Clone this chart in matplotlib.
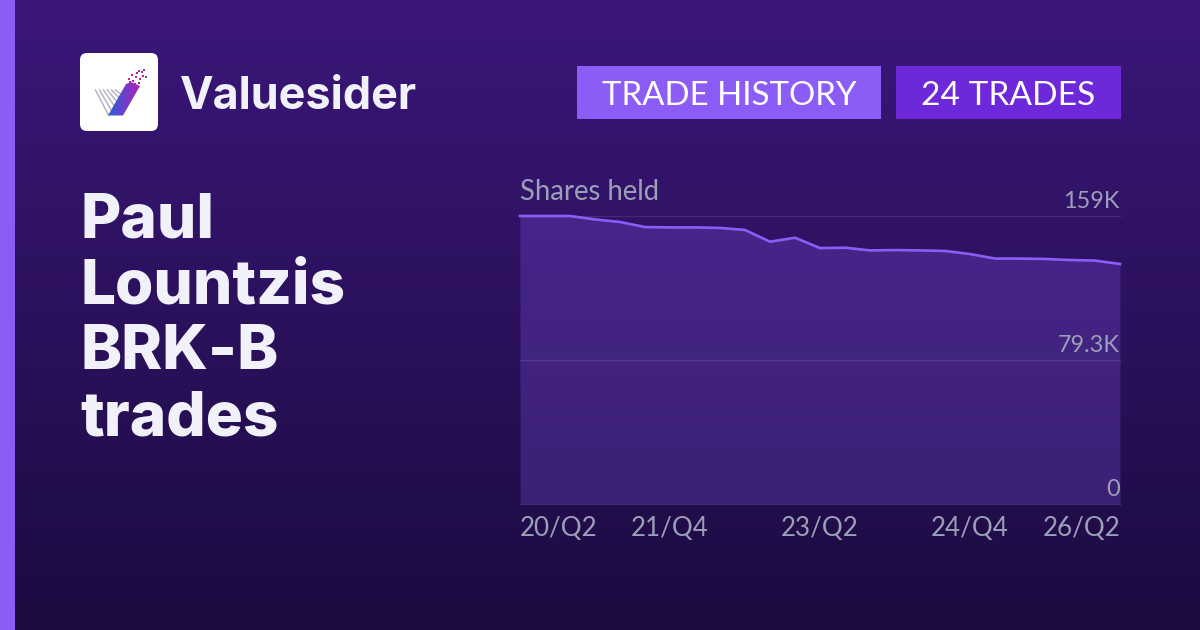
import numpy as np
import matplotlib
matplotlib.use("Agg")
import matplotlib.pyplot as plt
from matplotlib.patches import Rectangle, FancyBboxPatch, Polygon
from matplotlib.transforms import blended_transform_factory

# Data
quarters = ["20/Q2", "20/Q3", "20/Q4", "21/Q1", "21/Q2", "21/Q3", "21/Q4", "22/Q1", "22/Q2",
            "22/Q3", "22/Q4", "23/Q1", "23/Q2", "23/Q3", "23/Q4", "24/Q1", "24/Q2", "24/Q3",
            "24/Q4", "25/Q1", "25/Q2", "25/Q3", "25/Q4", "26/Q1", "26/Q2"]
shares_k = [159, 159, 159, 157.1, 155.7, 152.9, 152.7, 152.7, 152.4, 151.3, 144.8, 147.0, 141.3,
            141.5, 140.0, 140.2, 140.0, 139.7, 138.0, 135.5, 135.5, 135.3, 134.7, 134.4, 132.5]
shown_ticks = ["20/Q2", "21/Q4", "23/Q2", "24/Q4", "26/Q2"]
y_levels = [159, 79.3, 0]
y_labels = ["159K", "79.3K", "0"]
title_lines = ["Paul", "Lountzis", "BRK-B", "trades"]

W, H, DPI = 1200, 630, 100
fs = lambda px: px * 72 / DPI
fig = plt.figure(figsize=(W / DPI, H / DPI), dpi=DPI)

# Page layer in pixel coordinates
bg = fig.add_axes([0, 0, 1, 1], zorder=0)
bg.set_xlim(0, W); bg.set_ylim(H, 0); bg.axis("off")
top = np.array([0x3b, 0x17, 0x7a]) / 255
bot = np.array([0x1c, 0x0b, 0x40]) / 255
t = np.linspace(0, 1, 256)[:, None, None]
bg.imshow(top * (1 - t) + bot * t, extent=(0, W, H, 0), aspect="auto", zorder=0)
bg.add_patch(Rectangle((0, 0), 15, H, color="#8b5cf6", lw=0, zorder=1))

# Logo
bg.add_patch(FancyBboxPatch((80, 53), 78, 78, boxstyle="round,pad=0,rounding_size=7", lw=0, fc="white", zorder=1))
for i in range(6):
    x0 = 95.5 + i * 4
    bg.plot([x0, x0 + 13 - i * 0.3], [90, 115 - i * 3.3], color="#b4b6c2", lw=1.1, zorder=2)
grad = np.linspace(0, 1, 64)[None, :, None]
c1, c2 = np.array([0.16, 0.38, 0.85]), np.array([0.72, 0.12, 0.72])
im = bg.imshow(c1 * (1 - grad) + c2 * grad, extent=(108, 142, 116, 76), aspect="auto", zorder=2)
im.set_clip_path(Polygon([[108, 115.5], [123, 115.5], [140, 86], [131, 82], [126, 84]], transform=bg.transData))
for px_x, px_y in [(128, 78), (132, 80), (135, 76), (138, 82), (134, 83), (139, 78), (131, 74),
                   (136, 72), (141, 71), (143, 69), (142, 75), (138, 70), (145, 76), (129, 81)]:
    bg.add_patch(Rectangle((px_x, px_y), 2.2, 2.2, color="#b0259f", lw=0, zorder=3))
bg.set_xlim(0, W); bg.set_ylim(H, 0)

bg.text(180, 109, "Valuesider", family="Inter", weight="bold", fontsize=fs(45), color="#f1f2f9", va="baseline", zorder=3)

# Badges
bg.add_patch(Rectangle((577, 66), 304, 53, color="#8b5cf6", lw=0, zorder=2))
bg.add_patch(Rectangle((896, 66), 225, 53, color="#6d28d9", lw=0, zorder=2))
bg.text(729, 105, "TRADE HISTORY", family="Lato", fontsize=fs(33), color="white", ha="center", va="baseline", zorder=3)
bg.text(1008.5, 105, "24 TRADES", family="Lato", fontsize=fs(33.5), color="white", ha="center", va="baseline", zorder=3)

for line, base in zip(title_lines, [237, 303, 369, 435]):
    bg.text(80, base, line, family="Inter", weight="heavy", fontsize=fs(62), color="#f1f2f9", va="baseline", zorder=3)

bg.text(520, 200, "Shares held", family="Lato", fontsize=fs(27.5), color="#9b9fb8", va="baseline", zorder=3)

# Chart
ax = fig.add_axes([520 / W, 1 - 504 / H, 600 / W, 288 / H], zorder=1)
ax.patch.set_alpha(0)
x = np.arange(len(quarters))
ax.fill_between(x, shares_k, 0, color="#8b5cf6", alpha=0.25, lw=0)
ax.plot(x, shares_k, color="#8b5cf6", lw=1.9, solid_joinstyle="round", clip_on=False)
ax.set_xlim(0, len(quarters) - 1)
ax.set_ylim(0, 159)
for s in ax.spines.values():
    s.set_visible(False)
ax.set_yticks([])
for lvl in y_levels:
    ax.axhline(lvl, color="#ffffff", alpha=0.10, lw=1, clip_on=False, zorder=1)
trans = blended_transform_factory(ax.transAxes, ax.transData)
for lvl, lab in zip(y_levels, y_labels):
    ax.annotate(lab, (1, lvl), xycoords=trans, xytext=(0, 5.8), textcoords="offset points",
                family="Lato", fontsize=fs(23.5), color="#9b9fb8", ha="right", va="baseline", clip_on=False)
ax.set_xticks([quarters.index(q) for q in shown_ticks], shown_ticks)
ax.tick_params(axis="x", length=0, pad=9, labelsize=fs(26), labelcolor="#9b9fb8")
labels = ax.get_xticklabels()
for lb in labels:
    lb.set_family("Lato")
labels[0].set_ha("left")
labels[-1].set_ha("right")

fig.savefig("out.png", dpi=DPI)
